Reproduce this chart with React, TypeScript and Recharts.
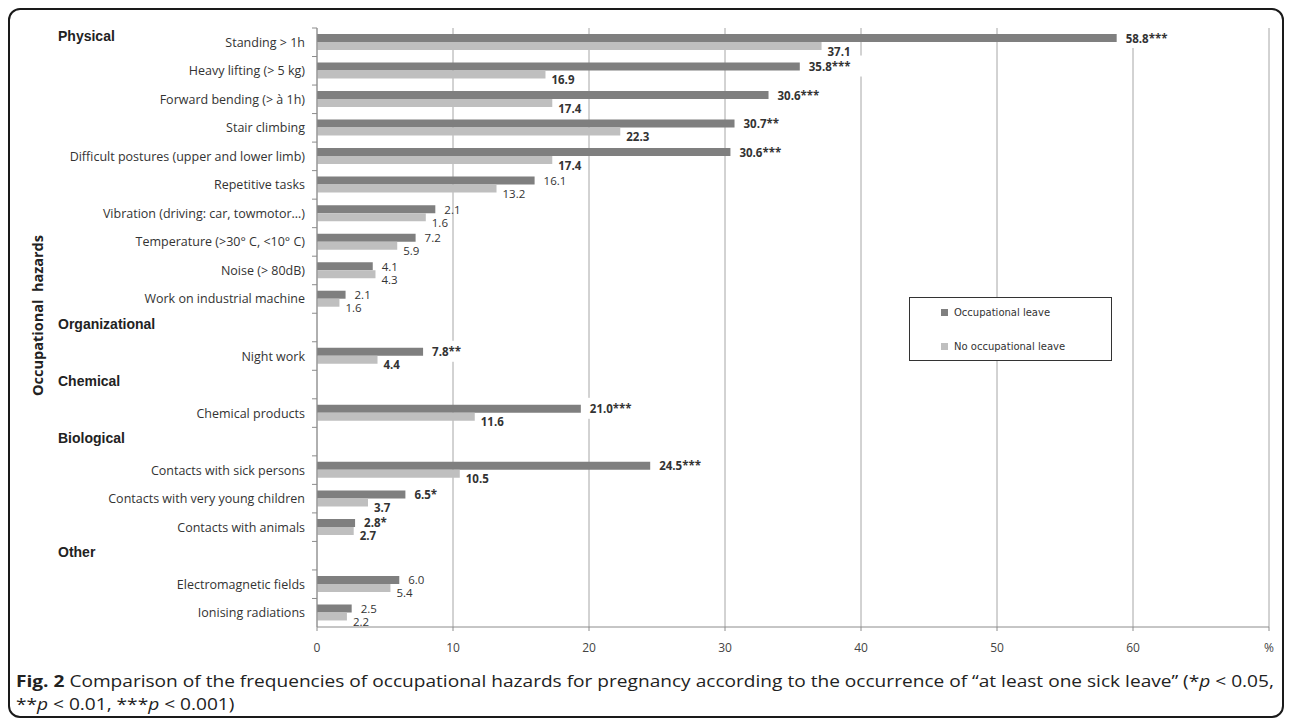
import React from "react";
import { Bar, BarChart, CartesianGrid, LabelList, Legend, XAxis, YAxis } from "recharts";

// rows top to bottom; "" rows only carry a section title
const hazards = [
  "Standing > 1h",
  "Heavy lifting (> 5 kg)",
  "Forward bending  (> à 1h)",
  "Stair climbing",
  "Difficult postures (upper and lower limb)",
  "Repetitive tasks",
  "Vibration (driving: car, towmotor…)",
  "Temperature (>30° C, <10° C)",
  "Noise (> 80dB)",
  "Work on industrial machine",
  "",
  "Night work",
  "",
  "Chemical products",
  "",
  "Contacts with sick persons",
  "Contacts with very young children",
  "Contacts with animals",
  "",
  "Electromagnetic fields",
  "Ionising radiations",
];

const sections = [
  "Physical", "", "", "", "", "", "", "", "", "",
  "Organizational", "", "Chemical", "", "Biological", "", "", "", "Other", "", "",
];

// bar lengths as drawn (some differ from the printed labels)
const leave = [58.8, 35.5, 33.2, 30.7, 30.4, 16.0, 8.7, 7.25, 4.1, 2.1, null, 7.8, null, 19.4, null, 24.5, 6.5, 2.8, null, 6.05, 2.55];
const noLeave = [37.1, 16.8, 17.3, 22.3, 17.3, 13.2, 8.0, 5.9, 4.3, 1.65, null, 4.45, null, 11.6, null, 10.5, 3.75, 2.7, null, 5.4, 2.2];

const leaveLabels = ["58.8***", "35.8***", "30.6***", "30.7**", "30.6***", "16.1", "2.1", "7.2", "4.1", "2.1", "", "7.8**", "", "21.0***", "", "24.5***", "6.5*", "2.8*", "", "6.0", "2.5"];
const noLeaveLabels = ["37.1", "16.9", "17.4", "22.3", "17.4", "13.2", "1.6", "5.9", "4.3", "1.6", "", "4.4", "", "11.6", "", "10.5", "3.7", "2.7", "", "5.4", "2.2"];

const xTicks = [0, 10, 20, 30, 40, 50, 60, 70];

const DARK = "#7f7f7f";
const LIGHT = "#bfbfbf";
const FONT = "'Open Sans', sans-serif";
const HEAD_FONT = "'Liberation Sans', Arial, sans-serif";

const PLOT_TOP = 20;
const PLOT_BOTTOM = 619;
const BAND = (PLOT_BOTTOM - PLOT_TOP) / hazards.length;

const data = hazards.map((name, i) => ({
  row: String(i),
  leave: leave[i] ?? undefined,
  noLeave: noLeave[i] ?? undefined,
  leaveLabel: leaveLabels[i],
  noLeaveLabel: noLeaveLabels[i],
}));

function HazardTick(props: any) {
  const { x, y, payload } = props;
  const i = Number(payload.value);
  const name = hazards[i];
  const section = sections[i];
  return (
    <g>
      <line x1={x - 5} x2={x} y1={y - BAND / 2} y2={y - BAND / 2} stroke="#8c8c8c" />
      {name && (
        <text x={x - 12} y={y} textAnchor="end" dominantBaseline="central" fontSize={12.5} fill="#333" fontFamily={FONT}>
          {name}
        </text>
      )}
      {section && (
        <text x={50} y={name ? y - 6 : y - 4} textAnchor="start" dominantBaseline="central" fontSize={14} fontWeight="bold" fill="#222" fontFamily={HEAD_FONT}>
          {section}
        </text>
      )}
    </g>
  );
}

function AxisTitle(props: any) {
  const vb = props.viewBox || { x: 0, y: 0, height: 0 };
  const cx = vb.x + 29;
  const cy = vb.y + vb.height / 2 - 12;
  return (
    <text x={cx} y={cy} transform={`rotate(-90 ${cx} ${cy})`} textAnchor="middle" dominantBaseline="central" fontSize={14.5} fontWeight="bold" fill="#222" fontFamily={FONT}>
      Occupational&nbsp;&nbsp;hazards
    </text>
  );
}

function makeValueLabel(dx: number, dy: number, boxed: boolean) {
  return function ValueLabel(props: any) {
    const { x, y, width, height, value } = props;
    if (!value) return null;
    const row = Math.floor((y + height / 2 - PLOT_TOP) / BAND);
    const bold = (leaveLabels[row] || "").includes("*");
    const tx = x + width + dx;
    const ty = y + height / 2 + dy;
    const w = String(value).length * 7 + 10;
    return (
      <g>
        {boxed && bold && <rect x={tx - 3} y={ty - 11} width={w} height={21} fill="#fff" />}
        <text x={tx} y={ty} dominantBaseline="central" fontSize={11.5} fontWeight={bold ? "bold" : "normal"} fill="#333" fontFamily={FONT}>
          {value}
        </text>
      </g>
    );
  };
}

function LegendBox() {
  const items = [
    { name: "Occupational leave", color: DARK },
    { name: "No occupational leave", color: LIGHT },
  ];
  return (
    <div style={{ width: 203, height: 64, boxSizing: "border-box", border: "1px solid #333", background: "#fff", position: "relative" }}>
      {items.map((it, k) => (
        <div key={it.name} style={{ position: "absolute", left: 31, top: 9 + k * 34, display: "flex", alignItems: "center", fontFamily: "'DejaVu Sans', sans-serif", fontSize: 10, color: "#333", whiteSpace: "nowrap" }}>
          <span style={{ display: "inline-block", width: 7, height: 7, background: it.color, marginRight: 6 }} />
          {it.name}
        </div>
      ))}
    </div>
  );
}

export default function App() {
  return (
    <div style={{ position: "relative", width: 1276, height: 710 }}>
      <div style={{ position: "absolute", left: 0, top: 0, width: 1276, height: 710, boxSizing: "border-box", border: "2px solid #1a1a1a", borderRadius: 12 }} />
      <div style={{ position: "absolute", left: 0, top: 0 }}>
        <BarChart
          width={1276}
          height={660}
          data={data}
          layout="vertical"
          barSize={8}
          barGap={0}
          margin={{ top: PLOT_TOP, right: 15, bottom: 11, left: 0 }}
        >
          <CartesianGrid horizontal={false} stroke="#a6a6a6" />
          <XAxis
            type="number"
            domain={[0, 70]}
            ticks={xTicks}
            height={30}
            tickSize={4}
            tickMargin={12}
            stroke="#8c8c8c"
            tick={{ fontSize: 12, fill: "#444", fontFamily: FONT }}
            tickFormatter={(v: number) => (v === 70 ? "%" : String(v))}
          />
          <YAxis
            type="category"
            dataKey="row"
            width={309}
            interval={0}
            tickLine={false}
            tickSize={0}
            tickMargin={0}
            stroke="#8c8c8c"
            tick={<HazardTick />}
            label={<AxisTitle />}
          />
          <Legend
            layout="vertical"
            align="center"
            verticalAlign="middle"
            content={<LegendBox />}
            wrapperStyle={{ position: "absolute", left: 901, top: 289, width: 203, height: 64 }}
          />
          <Bar dataKey="leave" name="Occupational leave" fill={DARK} isAnimationActive={false}>
            <LabelList dataKey="leaveLabel" content={makeValueLabel(9, 0, true)} />
          </Bar>
          <Bar dataKey="noLeave" name="No occupational leave" fill={LIGHT} isAnimationActive={false}>
            <LabelList dataKey="noLeaveLabel" content={makeValueLabel(6, 5, false)} />
          </Bar>
        </BarChart>
      </div>
      <div style={{ position: "absolute", left: 8, top: 662, fontFamily: FONT, fontSize: 15.5, lineHeight: "23px", color: "#222", whiteSpace: "nowrap", transform: "scaleX(1.232)", transformOrigin: "0 0" }}>
        <b>Fig. 2</b> Comparison of the frequencies of occupational hazards for pregnancy according to the occurrence of “at least one sick leave” (*<i>p</i> &lt; 0.05,
        <br />
        **<i>p</i> &lt; 0.01, ***<i>p</i> &lt; 0.001)
      </div>
    </div>
  );
}
